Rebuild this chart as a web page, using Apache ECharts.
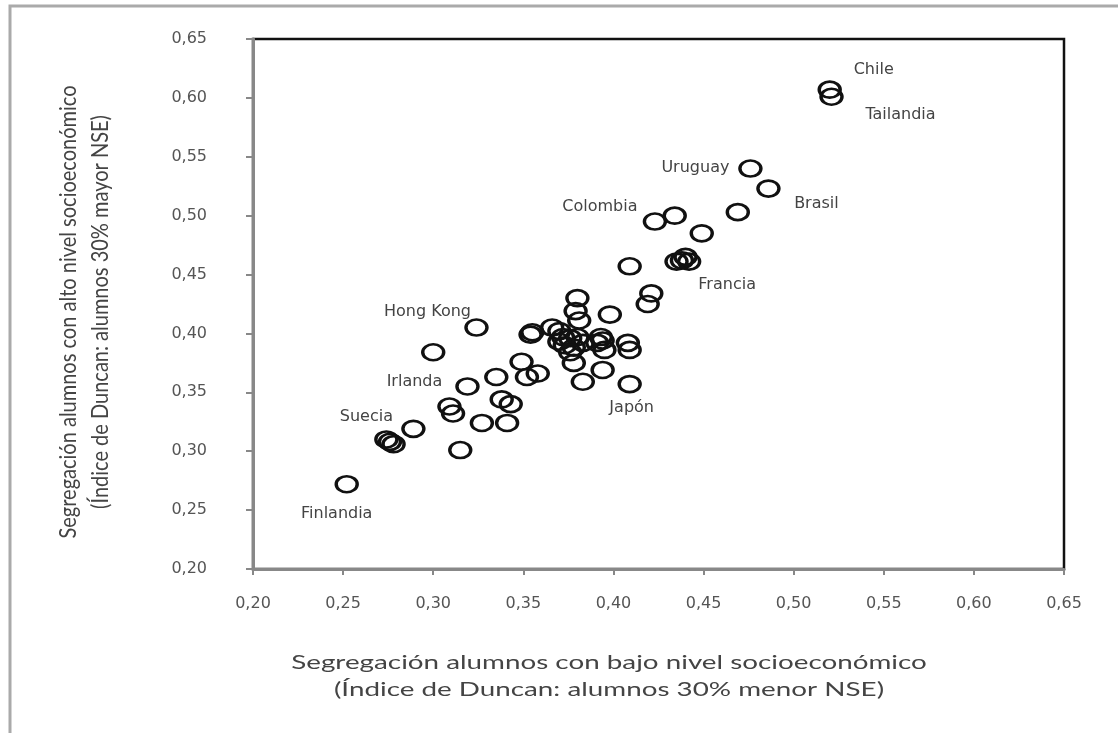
<!DOCTYPE html>
<html lang="es">

<head>
    <meta charset="UTF-8">
    <title>Segregación alumnos por nivel socioeconómico</title>
    <script src="https://cdn.jsdelivr.net/npm/echarts@6/dist/echarts.min.js"></script>
    <style>
        body { margin: 0; background: #fff; }
    </style>
</head>

<body>
    <div id="main" style="width: 1118px; height: 733px;"></div>
    <script>
        // índice de Duncan, 30% menor NSE (eje x)
        const bajoNSE = [
            0.520, 0.521, 0.476, 0.486, 0.469, 0.423, 0.434, 0.449, 0.435, 0.438,
            0.440, 0.442, 0.409, 0.421, 0.419, 0.324, 0.300, 0.319, 0.335, 0.349,
            0.352, 0.358, 0.309, 0.311, 0.289, 0.274, 0.276, 0.278, 0.327, 0.341,
            0.338, 0.343, 0.315, 0.252, 0.355, 0.354, 0.366, 0.370, 0.380, 0.379,
            0.381, 0.372, 0.376, 0.380, 0.373, 0.378, 0.383, 0.370, 0.378, 0.383,
            0.394, 0.398, 0.393, 0.394, 0.391, 0.395, 0.408, 0.409, 0.409, 0.376
        ];
        // índice de Duncan, 30% mayor NSE (eje y)
        const altoNSE = [
            0.607, 0.601, 0.540, 0.523, 0.503, 0.495, 0.500, 0.485, 0.461, 0.462,
            0.465, 0.461, 0.457, 0.434, 0.425, 0.405, 0.384, 0.355, 0.363, 0.376,
            0.363, 0.366, 0.338, 0.332, 0.319, 0.310, 0.308, 0.306, 0.324, 0.324,
            0.344, 0.340, 0.301, 0.272, 0.401, 0.399, 0.405, 0.402, 0.430, 0.419,
            0.411, 0.397, 0.396, 0.397, 0.390, 0.388, 0.392, 0.393, 0.375, 0.359,
            0.369, 0.416, 0.397, 0.394, 0.392, 0.386, 0.392, 0.386, 0.357, 0.384
        ];
        const paises = [
            'Chile', 'Tailandia', 'Uruguay', 'Brasil', '', 'Colombia', '', '', '', '',
            '', 'Francia', '', '', '', 'Hong Kong', '', 'Irlanda', '', '',
            '', '', '', '', '', 'Suecia', '', '', '', '',
            '', '', '', 'Finlandia', '', '', '', '', '', '',
            '', '', '', '', '', '', '', '', '', '',
            '', '', '', '', '', '', '', '', 'Japón', ''
        ];
        const ticks = [0.20, 0.25, 0.30, 0.35, 0.40, 0.45, 0.50, 0.55, 0.60, 0.65];

        // desplazamiento de cada etiqueta respecto a su punto
        const offsets = {
            'Chile': [44, -20], 'Tailandia': [69, 18], 'Uruguay': [-55, -1],
            'Brasil': [48, 15], 'Colombia': [-55, -15], 'Francia': [38, 23],
            'Hong Kong': [-49, -16], 'Irlanda': [-53, -5], 'Suecia': [-20, -23],
            'Finlandia': [-10, 30], 'Japón': [2, 24]
        };

        const puntos = bajoNSE.map((x, i) => {
            const item = { value: [x, altoNSE[i]], name: paises[i] };
            if (paises[i]) {
                item.label = { show: true, position: 'inside', offset: offsets[paises[i]], formatter: '{b}' };
            }
            return item;
        });

        const fmt = v => v.toFixed(2).replace('.', ',');
        const tickFont = { color: '#555', fontSize: 16, fontFamily: 'DejaVu Sans' };

        const chart = echarts.init(document.getElementById('main'));
        chart.setOption({
            backgroundColor: '#fff',
            animation: false,
            grid: {
                left: 253, right: 54, top: 39, bottom: 164,
                show: true, borderColor: '#111', borderWidth: 2.5
            },
            xAxis: {
                type: 'value', min: ticks[0], max: ticks[ticks.length - 1], interval: 0.05,
                axisLine: { lineStyle: { color: '#888', width: 3 } },
                axisTick: { show: true, length: 6, lineStyle: { color: '#888', width: 2 } },
                axisLabel: Object.assign({ margin: 27, formatter: fmt }, tickFont),
                splitLine: { show: false }
            },
            yAxis: {
                type: 'value', min: ticks[0], max: ticks[ticks.length - 1], interval: 0.05,
                axisLine: { show: true, lineStyle: { color: '#888', width: 3 } },
                axisTick: { show: true, length: 7, lineStyle: { color: '#888', width: 2 } },
                axisLabel: Object.assign({ margin: 46, formatter: fmt }, tickFont),
                splitLine: { show: false }
            },
            series: [{
                type: 'scatter',
                data: puntos,
                symbol: 'circle',
                symbolSize: [21, 16],
                itemStyle: { color: 'rgba(0,0,0,0)', borderColor: '#111', borderWidth: 3, opacity: 1 },
                label: { color: '#444', fontSize: 16, fontFamily: 'DejaVu Sans' },
                emphasis: { disabled: true }
            }],
            graphic: [
                {
                    type: 'polyline', silent: true,
                    shape: { points: [[10, 733], [10, 6], [1118, 6]] },
                    style: { stroke: '#aaa', lineWidth: 3, fill: null }
                },
                {
                    type: 'text', x: 84, y: 312, rotation: Math.PI / 2, scaleY: 1.2,
                    style: {
                        text: 'Segregación alumnos con alto nivel socioeconómico\n(Índice de Duncan: alumnos 30% mayor NSE)',
                        font: '20px Lato', fill: '#444', lineHeight: 27,
                        textAlign: 'center', textVerticalAlign: 'middle', align: 'center', verticalAlign: 'middle'
                    }
                },
                {
                    type: 'text', x: 609, y: 676, scaleX: 1.39,
                    style: {
                        text: 'Segregación alumnos con bajo nivel socioeconómico\n(Índice de Duncan: alumnos 30% menor NSE)',
                        font: '20px Lato', fill: '#444', lineHeight: 27,
                        textAlign: 'center', textVerticalAlign: 'middle', align: 'center', verticalAlign: 'middle'
                    }
                }
            ]
        });
    </script>
</body>

</html>
